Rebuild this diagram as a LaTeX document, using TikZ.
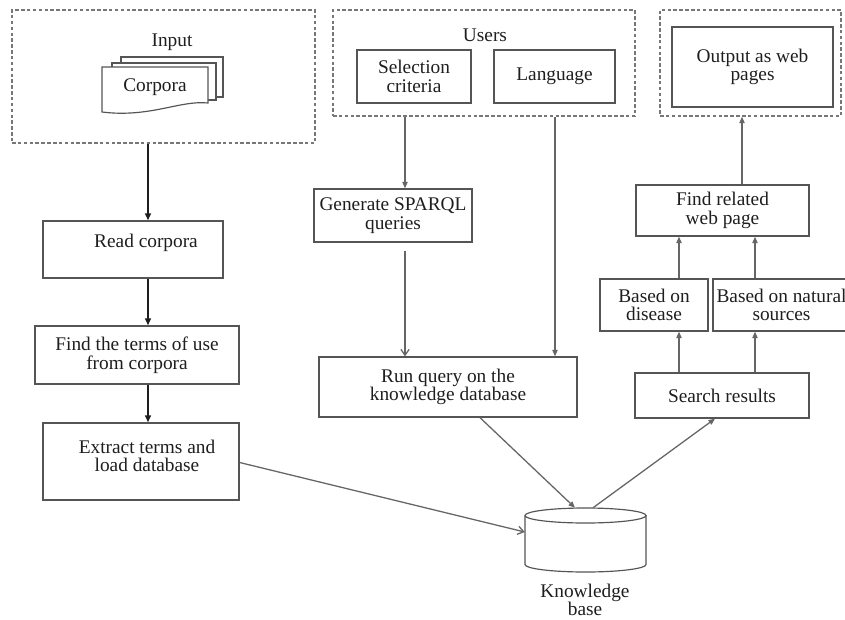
\documentclass[tikz,border=0pt]{standalone}
\usepackage{fontspec}
\setmainfont{Liberation Serif}
\usetikzlibrary{arrows.meta,fit,calc}
\definecolor{edge}{HTML}{555555}
\definecolor{ink}{HTML}{1E1E1E}
\newlength\px
\setlength\px{0.03cm}
\begin{document}
\begin{tikzpicture}[x=0.03cm,y=-0.03cm,
  every node/.style={text=ink,font=\fontsize{16.5}{16}\selectfont},
  box/.style={draw=edge,line width=1.1pt,rectangle,inner sep=0pt,align=center},
  group/.style={draw=edge!80,line width=1.2pt,dash pattern=on 3pt off 2pt,rectangle,inner sep=0pt},
  txt/.style={inner sep=1pt,align=center},
  flow/.style={draw=ink,line width=1.5pt,-{Triangle[length=6pt,width=5pt]}},
  link/.style={draw=edge!90,line width=1.1pt,-{Triangle[length=5.5pt,width=4.5pt]}},
  open/.style={draw=edge!90,line width=1.1pt,-{Straight Barb[length=5pt,width=7pt]}}]
\useasboundingbox (0,0) rectangle (845,619);

% column guides for the vertical connectors
\coordinate (cL) at (148,0);
\coordinate (cA) at (405,0);
\coordinate (cB) at (555,0);
\coordinate (cD) at (679,0);
\coordinate (cN) at (755,0);
\coordinate (cO) at (742,0);

% dashed groups
\node[group,fit={(12,10) (315,143)}] (input) {};
\node[group,fit={(333,10) (635,116)}] (users) {};
\node[group,fit={(660,10) (841,116)}] (outgrp) {};
\node[txt] (inputlbl) at (172,42) {Input};
\node[txt] (userslbl) at (485,35) {Users};

% stacked corpora document
\foreach \l/\t/\r/\b in {121/57/223/97, 112/63/216/100}{
  \draw[edge,line width=1pt,fill=white] (\l,\t) -- (\r,\t) -- (\r,\b) -- (\l,\b) -- cycle;
}
\draw[edge,line width=1pt,fill=white] (102,67) -- (208,67) -- (208,103)
  .. controls (180,100) and (150,118) .. (102,112) -- cycle;
\node[txt] (corpora) at (155,87) {Corpora};

% boxes (centre, width, height)
\node[box,minimum width=114\px,minimum height=53\px] (sel) at (414,76.5) {Selection\\criteria};
\node[box,minimum width=121\px,minimum height=53\px] (lang) at (554.5,76.5) {Language};
\node[box,minimum width=161\px,minimum height=80\px] (outp) at (752.5,67) {Output as web\\pages};
\node[box,minimum width=180\px,minimum height=57\px] (read) at (133,249.5) {};
\node[txt] (readtxt) at (146,243) {Read corpora};
\node[box,minimum width=204\px,minimum height=58\px] (find) at (137,355) {Find the terms of use\\from corpora};
\node[box,minimum width=196\px,minimum height=77\px] (extract) at (141,461.5) {};
\node[txt] (extracttxt) at (147,456) {Extract terms and\\load database};
\node[box,minimum width=158\px,minimum height=53\px] (gen) at (393,215.5) {Generate SPARQL\\queries};
\node[box,minimum width=258\px,minimum height=60\px] (run) at (448,387) {Run query on the\\knowledge database};
\node[box,minimum width=173\px,minimum height=51\px] (rel) at (722.5,210.5) {Find related\\web page};
\node[box,minimum width=108\px,minimum height=52\px] (dis) at (654,305) {Based on\\disease};
\node[box,minimum width=137\px,minimum height=52\px] (nat) at (781.5,305) {Based on natural\\sources};
\node[box,minimum width=174\px,minimum height=45\px] (search) at (722,395.5) {Search results};

% knowledge base cylinder
\node[inner sep=0pt,fit={(525,508) (646,572)}] (kb) {};
\draw[edge,line width=1pt,fill=white] (525,515.5) -- (525,564.5)
  arc[start angle=180,end angle=360,x radius=1.815cm,y radius=0.225cm] -- (646,515.5);
\draw[edge,line width=1pt] (585.5,515.5) ellipse [x radius=1.815cm,y radius=0.225cm];
\node[txt] (kblbl) at (585,600) {Knowledge\\base};

% left column flow
\draw[flow] (input.south -| cL) -- (read.north -| cL);
\draw[flow] (read.south -| cL) -- (find.north -| cL);
\draw[flow] (find.south -| cL) -- (extract.north -| cL);
\draw[open] ($(extract.east)+(0,1)$) -- ($(kb.west)+(0,-8)$);

% query column
\draw[link] (users.south -| cA) -- (gen.north -| cA);
\draw[open] ($(gen.south -| cA)+(0,8)$) -- (run.north -| cA);
\draw[link] (users.south -| cB) -- (run.north -| cB);
\draw[link] ($(run.south)+(32,0)$) -- ($(kb.north)+(-10.5,0)$);
\draw[link] ($(kb.north)+(7.5,0)$) -- ($(search.south)+(-7,0)$);

% result column
\draw[link] (search.north -| cD) -- (dis.south -| cD);
\draw[link] (search.north -| cN) -- (nat.south -| cN);
\draw[link] (dis.north -| cD) -- (rel.south -| cD);
\draw[link] (nat.north -| cN) -- (rel.south -| cN);
\draw[link] (rel.north -| cO) -- (outgrp.south -| cO);
\end{tikzpicture}
\end{document}
